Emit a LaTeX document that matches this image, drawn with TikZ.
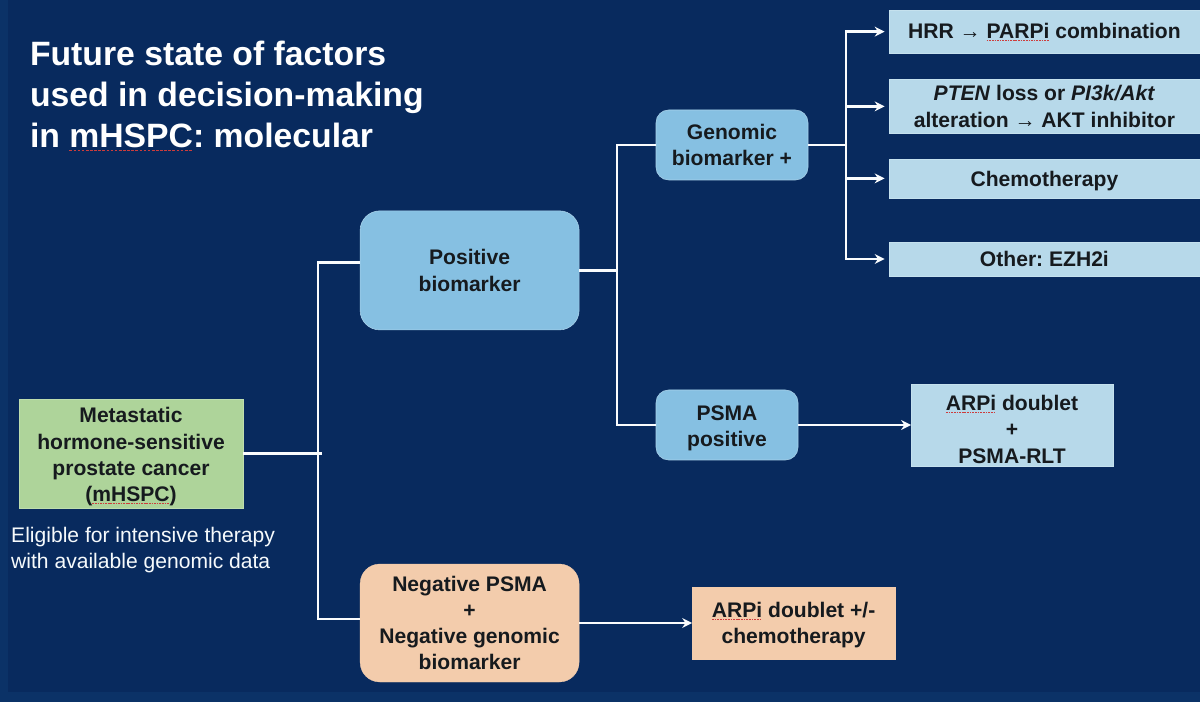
\documentclass[tikz,border=0pt]{standalone}
\usepackage{fontspec}
\usetikzlibrary{arrows.meta}
\setmainfont{Liberation Sans}
\frenchspacing
\definecolor{navybg}{RGB}{8,42,94}
\definecolor{navyedge}{RGB}{11,50,103}
\definecolor{greenbox}{RGB}{174,212,154}
\definecolor{paleblue}{RGB}{183,217,234}
\definecolor{midblue}{RGB}{134,192,226}
\definecolor{peach}{RGB}{243,204,172}
\definecolor{inkblack}{RGB}{22,26,30}
\definecolor{squigred}{RGB}{205,60,60}
\newcommand{\spellmark}[1]{\setbox0\hbox{#1}\rlap{\raisebox{-.2ex}{\textcolor{squigred}{\hbox to \wd0{\xleaders\hbox{\rule{.08em}{.55pt}\kern.04em}\hfil}}}}\box0\relax}
\begin{document}
\begin{tikzpicture}[inner sep=0pt,outer sep=0pt,
boxtext/.style={text=inkblack,align=center,font=\fontsize{15}{18.7}\selectfont\bfseries},
bluebox/.style={draw=paleblue!80!white,fill=paleblue,rectangle,very thin,boxtext},
greenblock/.style={bluebox,draw=greenbox!80!white,fill=greenbox},
peachblock/.style={bluebox,draw=peach,fill=peach},
roundblock/.style={bluebox,draw=midblue!70!white,fill=midblue,rounded corners=9pt,thin},
roundpeach/.style={bluebox,draw=peach,fill=peach,rounded corners=14pt},
wire/.style={draw=white!93!paleblue,line width=1.8pt},
wirearrow/.style={wire,-{Stealth[length=7pt,width=7pt]}}]
% page and background
\fill[navyedge] (0,0) rectangle (30,17.55);
\fill[navybg] (.2,.25) rectangle (30,17.55);
\path[use as bounding box] (0,0) rectangle (30,17.55);
% title and note
\draw (.75,15.15) node[anchor=west,align=left,text=white,font=\fontsize{24}{29.2}\selectfont\bfseries] (title)
  {Future state of factors\\used in decision-making\\in \spellmark{mHSPC}: molecular};
\draw (.28,3.8) node[anchor=west,align=left,text=white!88!paleblue,font=\fontsize{15}{18.5}\selectfont] (note)
  {Eligible for intensive therapy\\with available genomic data};
% main blocks
\draw (3.275,6.21) node[greenblock,minimum width=5.6cm,minimum height=2.725cm] (mhspc) {};
\draw (mhspc.center) ++(0,-.08) node[boxtext] (mhspclabel)
  {Metastatic\\hormone-sensitive\\prostate cancer\\(\spellmark{mHSPC})};
\draw (11.74,10.79) node[roundblock,rounded corners=14pt,minimum width=5.475cm,minimum height=2.975cm] (pos) {Positive\\biomarker};
\draw (11.74,1.975) node[roundpeach,minimum width=5.475cm,minimum height=2.95cm] (neg)
  {Negative PSMA\\+\\Negative genomic\\biomarker};
\draw (18.3,13.925) node[roundblock,minimum width=3.8cm,minimum height=1.75cm] (genomic) {Genomic\\biomarker +};
\draw (18.175,6.925) node[roundblock,minimum width=3.55cm,minimum height=1.75cm] (psma) {\rule{0pt}{15.5pt}PSMA\\positive};
% treatments
\draw (26.11,16.76) node[bluebox,minimum width=7.78cm,minimum height=1.075cm] (hrr) {HRR → \spellmark{PARPi} combination};
\draw (26.11,14.89) node[bluebox,minimum width=7.78cm,minimum height=1.35cm] (pten)
  {\textit{PTEN} loss or \textit{PI3k/Akt}\\alteration → AKT inhibitor};
\draw (26.11,13.09) node[bluebox,minimum width=7.78cm,minimum height=.975cm] (chemo) {\rule{0pt}{15pt}Chemotherapy};
\draw (26.11,11.075) node[bluebox,minimum width=7.78cm,minimum height=.85cm] (ezh) {Other: EZH2i};
\draw (25.3,6.925) node[bluebox,minimum width=5.05cm,minimum height=2.05cm] (rlt) {\rule{0pt}{17pt}\spellmark{ARPi} doublet\\+\\PSMA-RLT};
\draw (19.84,1.975) node[peachblock,minimum width=5.075cm,minimum height=1.8cm] (arpi) {\rule{0pt}{13.5pt}\spellmark{ARPi} doublet +/-\\chemotherapy};
% connectors
\draw[wire] (mhspc.0) -- ++(1.875,0) coordinate (trunk) -- ++(.1,0);
\draw[wire] (trunk) |- (pos.176);
\draw[wire] (trunk) |- (neg.178.5);
\draw[wire] (pos.0) -- ++(.95,0) coordinate (fork);
\draw[wire] (fork) |- (genomic.180);
\draw[wire] (fork) |- (psma.180);
\draw[wire] (genomic.0) -- ++(.95,0) coordinate (split);
\draw[wirearrow] (split) |- ([xshift=-3pt]hrr.west);
\draw[wirearrow] (split) |- ([xshift=-3pt]pten.west);
\draw[wirearrow] (split) |- ([xshift=-3pt]chemo.west);
\draw[wirearrow] (split) |- ([xshift=-3pt]ezh.west);
\draw[wirearrow] (psma) -- (rlt);
\draw[wirearrow] (neg) -- (arpi);
\end{tikzpicture}
\end{document}
